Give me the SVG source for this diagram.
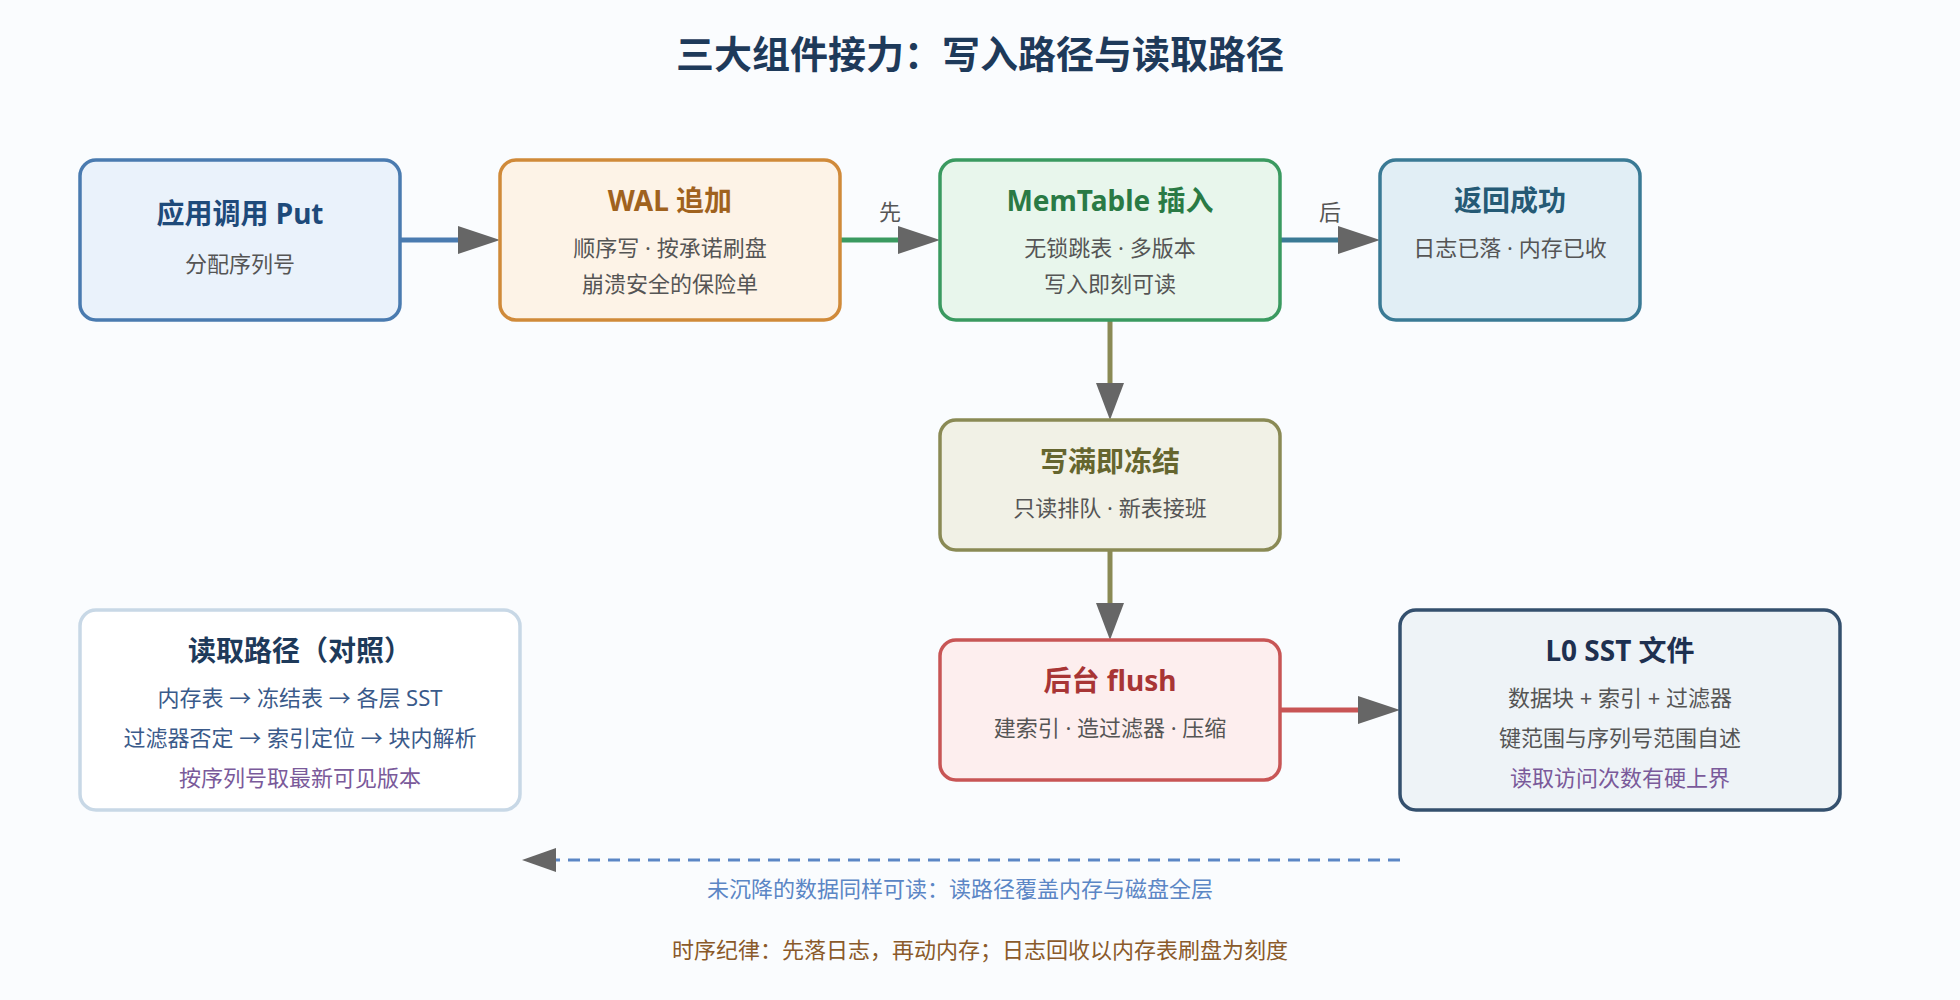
<svg xmlns="http://www.w3.org/2000/svg" width="1960" height="1000" viewBox="0 0 1960 1000">
<style>
text{font-family:"Noto Sans","Noto Sans CJK SC",sans-serif;text-anchor:middle}
.t{font-size:28px;font-weight:bold}
.s{font-size:22px;fill:#555}
.box{stroke-width:3.5}
.c{fill:none;stroke-width:5}
</style>
<defs>
<marker id="a" markerWidth="10" markerHeight="10" refX="9" refY="5" orient="auto" markerUnits="userSpaceOnUse" viewBox="0 0 10 10"><path d="M0,0L10,5L0,10z" fill="#666"/></marker>
</defs>
<rect width="1960" height="1000" fill="#fafcfe"/>
<text x="980" y="68" style="font-size:38px;font-weight:bold;fill:#1e3a5a">三大组件接力：写入路径与读取路径</text>
<g id="connectors">
<line class="c" x1="400" y1="240" x2="460" y2="240" stroke="#4a7bb0"/><path d="M458,226L500,240L458,254z" fill="#666"/>
<line class="c" x1="840" y1="240" x2="900" y2="240" stroke="#3a9a60"/><path d="M898,226L940,240L898,254z" fill="#666"/>
<text x="890" y="220" class="s" style="fill:#555">先</text>
<line class="c" x1="1280" y1="240" x2="1340" y2="240" stroke="#3a7a95"/><path d="M1338,226L1380,240L1338,254z" fill="#666"/>
<text x="1330" y="220" class="s" style="fill:#555">后</text>
<line class="c" x1="1110" y1="320" x2="1110" y2="385" stroke="#8a8a55"/><path d="M1096,383L1110,420L1124,383z" fill="#666"/>
<line class="c" x1="1110" y1="550" x2="1110" y2="605" stroke="#8a8a55"/><path d="M1096,603L1110,640L1124,603z" fill="#666"/>
<line class="c" x1="1280" y1="710" x2="1360" y2="710" stroke="#c85555"/><path d="M1358,696L1400,710L1358,724z" fill="#666"/>
<line x1="1400" y1="860" x2="555" y2="860" stroke="#5b86c5" stroke-width="3" stroke-dasharray="12,8"/><path d="M556,848L522,860L556,872z" fill="#666"/>
<text x="960" y="897" class="s" style="fill:#5b86c5">未沉降的数据同样可读：读路径覆盖内存与磁盘全层</text>
</g>
<g id="n1"><rect class="box" x="80" y="160" width="320" height="160" rx="16" fill="#eaf2fb" stroke="#4a7bb0"/>
<text x="240" y="224" class="t" fill="#1e4a7a">应用调用 Put</text><text x="240" y="272" class="s">分配序列号</text></g>
<g id="n2"><rect class="box" x="500" y="160" width="340" height="160" rx="16" fill="#fdf3e7" stroke="#d08a3a"/>
<text x="670" y="211" class="t" fill="#a0621e">WAL 追加</text><text x="670" y="256" class="s">顺序写 · 按承诺刷盘</text><text x="670" y="292" class="s">崩溃安全的保险单</text></g>
<g id="n3"><rect class="box" x="940" y="160" width="340" height="160" rx="16" fill="#e8f6ec" stroke="#3a9a60"/>
<text x="1110" y="211" class="t" fill="#2a7a45">MemTable 插入</text><text x="1110" y="256" class="s">无锁跳表 · 多版本</text><text x="1110" y="292" class="s">写入即刻可读</text></g>
<g id="n4"><rect class="box" x="1380" y="160" width="260" height="160" rx="16" fill="#e1eef5" stroke="#3a7a95"/>
<text x="1510" y="211" class="t" fill="#255a75">返回成功</text><text x="1510" y="256" class="s">日志已落 · 内存已收</text></g>
<g id="n5"><rect class="box" x="940" y="420" width="340" height="130" rx="16" fill="#f1f1e6" stroke="#8a8a55"/>
<text x="1110" y="472" class="t" fill="#65652e">写满即冻结</text><text x="1110" y="516" class="s">只读排队 · 新表接班</text></g>
<g id="n6"><rect class="box" x="940" y="640" width="340" height="140" rx="16" fill="#fdeeee" stroke="#c85555"/>
<text x="1110" y="691" class="t" fill="#a83535">后台 flush</text><text x="1110" y="736" class="s">建索引 · 造过滤器 · 压缩</text></g>
<g id="n7"><rect class="box" x="1400" y="610" width="440" height="200" rx="16" fill="#eef3f7" stroke="#34506e"/>
<text x="1620" y="661" class="t" fill="#1e3050">L0 SST 文件</text><text x="1620" y="706" class="s">数据块 + 索引 + 过滤器</text><text x="1620" y="746" class="s">键范围与序列号范围自述</text><text x="1620" y="786" class="s" style="fill:#7a5a9a">读取访问次数有硬上界</text></g>
<g id="n8"><rect class="box" x="80" y="610" width="440" height="200" rx="16" fill="#ffffff" stroke="#c8d8e6"/>
<text x="300" y="661" class="t" fill="#1e3a5a">读取路径（对照）</text><text x="300" y="706" class="s" style="fill:#3a5a8a">内存表 → 冻结表 → 各层 SST</text><text x="300" y="746" class="s" style="fill:#3a5a8a">过滤器否定 → 索引定位 → 块内解析</text><text x="300" y="786" class="s" style="fill:#7a5a9a">按序列号取最新可见版本</text></g>
<text x="980" y="958" class="s" style="fill:#8a5a2a">时序纪律：先落日志，再动内存；日志回收以内存表刷盘为刻度</text>
</svg>
